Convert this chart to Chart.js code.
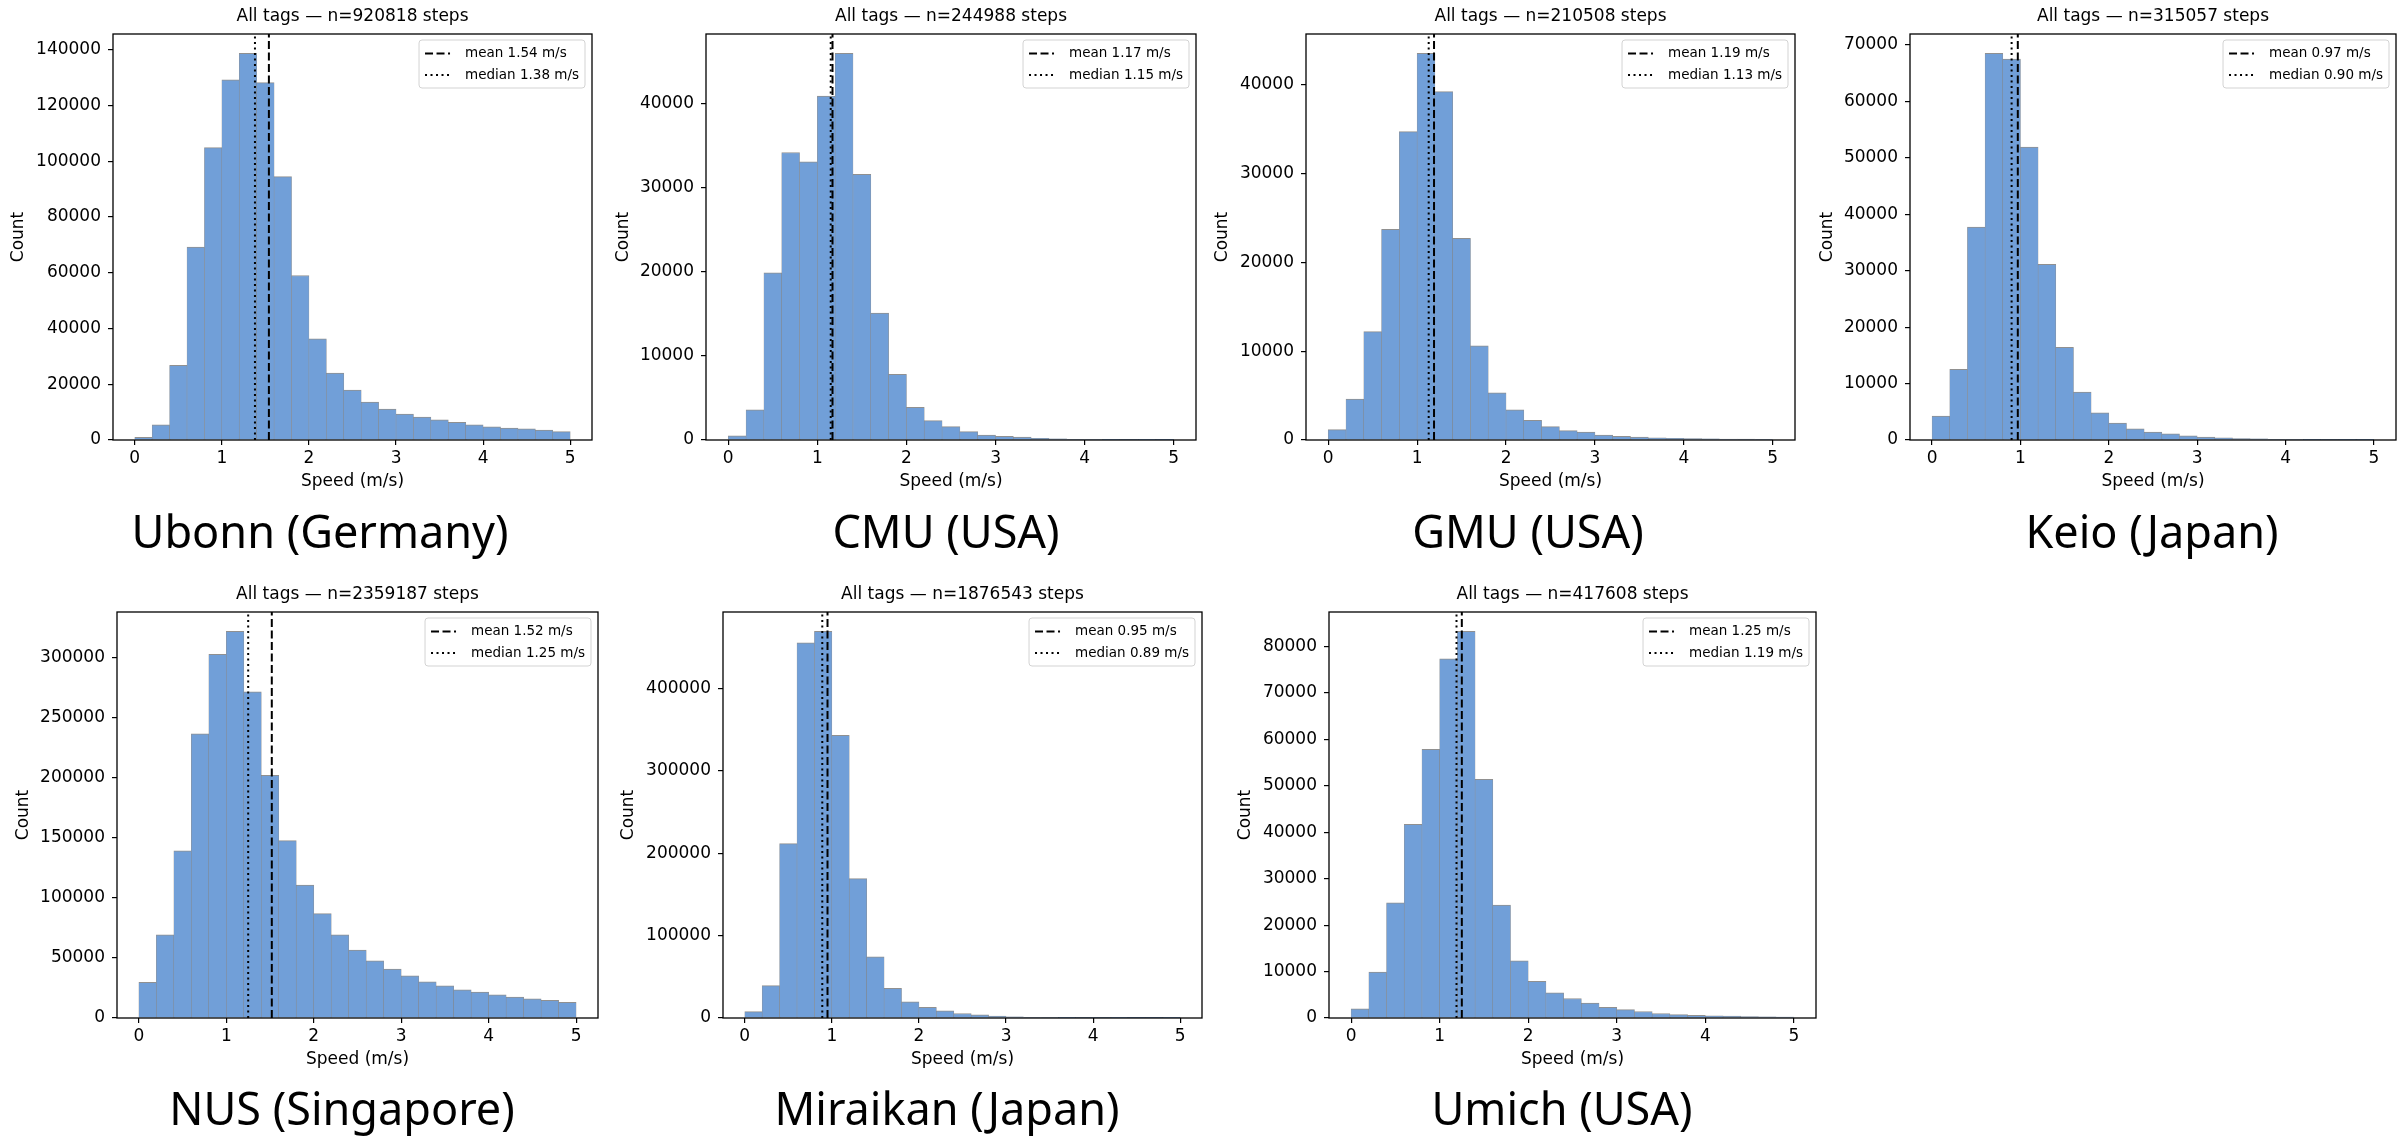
<!DOCTYPE html>
<html>
<head>
<meta charset="utf-8">
<script src="https://cdn.jsdelivr.net/npm/chart.js@4.4.1/dist/chart.umd.min.js"></script>
<style>
  body { margin: 0; background: #fff; }
  #page { position: relative; width: 2408px; height: 1148px; overflow: hidden; background: #fff; }
  #page canvas { position: absolute; }
  .site {
    position: absolute;
    font-family: 'Noto Sans', sans-serif;
    font-size: 45px;
    line-height: 1;
    color: #000;
    white-space: nowrap;
    transform: translate(-50%, -50%);
  }
</style>
</head>
<body>
<div id="page"></div>
<script>
// Границы бинов скорости (м/с), 25 бинов по 0.2
const binEdges = [0, 0.2, 0.4, 0.6, 0.8, 1.0, 1.2, 1.4, 1.6, 1.8, 2.0, 2.2, 2.4,
                  2.6, 2.8, 3.0, 3.2, 3.4, 3.6, 3.8, 4.0, 4.2, 4.4, 4.6, 4.8, 5.0];

// Подписи площадок и статистика
const siteNames = ['Ubonn (Germany)', 'CMU (USA)', 'GMU (USA)', 'Keio (Japan)',
                   'NUS (Singapore)', 'Miraikan (Japan)', 'Umich (USA)'];
const stepCounts = [920818, 244988, 210508, 315057, 2359187, 1876543, 417608];
const meanSpeeds = [1.54, 1.17, 1.19, 0.97, 1.52, 0.95, 1.25];
const medianSpeeds = [1.38, 1.15, 1.13, 0.90, 1.25, 0.89, 1.19];
const yTickSteps = [20000, 10000, 10000, 10000, 50000, 100000, 10000];
const xTicks = [0, 1, 2, 3, 4, 5];

// Количество шагов в каждом бине
const ubonnCounts = [1000, 5400, 26800, 69200, 104900, 129200, 138700, 128200, 94500, 59000, 36300, 24000, 17900,
                     13600, 11100, 9300, 8200, 7200, 6300, 5400, 4700, 4300, 4000, 3600, 3000];
const cmuCounts = [500, 3600, 19900, 34200, 33100, 40900, 46000, 31600, 15100, 7800, 3900, 2300, 1600,
                   1000, 600, 430, 340, 210, 130, 80, 50, 30, 20, 10, 5];
const gmuCounts = [1170, 4600, 12200, 23700, 34700, 43500, 39200, 22700, 10600, 5300, 3400, 2200, 1500,
                   1050, 880, 560, 400, 320, 240, 200, 160, 130, 110, 90, 60];
const keioCounts = [4250, 12500, 37700, 68500, 67500, 51900, 31100, 16400, 8500, 4800, 3000, 2000, 1400,
                    1100, 760, 510, 380, 250, 190, 130, 90, 60, 40, 30, 20];
const nusCounts = [29800, 69200, 139300, 236700, 303100, 322200, 271800, 202300, 147800, 110800, 87000, 69200, 56700,
                   47600, 40700, 35100, 30100, 26900, 23500, 21600, 19400, 17500, 16000, 14700, 13100];
const miraikanCounts = [7800, 39200, 211600, 455200, 469300, 343000, 169200, 74300, 36000, 19600, 12800, 8700, 5500,
                        3700, 2300, 1400, 900, 600, 400, 300, 200, 150, 100, 80, 60];
const umichCounts = [2000, 9900, 24800, 41700, 57900, 77400, 83300, 51400, 24300, 12300, 7900, 5400, 4200,
                     3200, 2300, 1800, 1400, 970, 730, 570, 490, 400, 320, 260, 220];

const allCounts = [ubonnCounts, cmuCounts, gmuCounts, keioCounts, nusCounts, miraikanCounts, umichCounts];

// Прямоугольники областей графиков на странице
const panels = [
    { l: 113, r: 592, t: 34, b: 440, countGap: 94, labelX: 320, labelY: 530 },
    { l: 706, r: 1196, t: 34, b: 440, countGap: 82, labelX: 946, labelY: 530 },
    { l: 1306, r: 1795, t: 34, b: 440, countGap: 83, labelX: 1528, labelY: 530 },
    { l: 1910, r: 2396, t: 34, b: 440, countGap: 82, labelX: 2152, labelY: 530 },
    { l: 117, r: 598, t: 612, b: 1018, countGap: 93, labelX: 342, labelY: 1107 },
    { l: 723, r: 1202, t: 612, b: 1018, countGap: 94, labelX: 947, labelY: 1107 },
    { l: 1329, r: 1816, t: 612, b: 1018, countGap: 83, labelX: 1562, labelY: 1107 }
];

const AXIS_W = 110, RIGHT_PAD = 14, TITLE_H = 34, XAXIS_H = 60;

Chart.defaults.font.family = '"DejaVu Sans", sans-serif';
Chart.defaults.color = '#000';

// Рамка вокруг области графика
const framePlugin = {
    id: 'frame',
    afterDatasetsDraw(chart) {
        const { ctx, chartArea: a } = chart;
        ctx.save();
        ctx.strokeStyle = '#000';
        ctx.lineWidth = 1.3;
        ctx.strokeRect(a.left, a.top, a.right - a.left, a.bottom - a.top);
        ctx.restore();
    }
};

// Легенда в правом верхнем углу, как в matplotlib
const statsLegend = {
    id: 'statsLegend',
    afterDatasetsDraw(chart, args, opts) {
        const { ctx, chartArea: a } = chart;
        ctx.save();
        ctx.font = '13.5px "DejaVu Sans"';
        const textW = Math.max(...opts.items.map(it => ctx.measureText(it.label).width));
        const w = 46 + textW + 6, h = 48;
        const x = a.right - 7 - w, y = a.top + 6;
        ctx.beginPath();
        ctx.roundRect(x, y, w, h, 3);
        ctx.fillStyle = 'rgba(255,255,255,0.8)';
        ctx.fill();
        ctx.strokeStyle = '#d3d3d3';
        ctx.lineWidth = 1;
        ctx.stroke();
        opts.items.forEach((it, k) => {
            const cy = y + 13.5 + k * 21.5;
            ctx.beginPath();
            ctx.setLineDash(it.dash);
            ctx.strokeStyle = '#000';
            ctx.lineWidth = 2;
            ctx.moveTo(x + 6, cy);
            ctx.lineTo(x + 31, cy);
            ctx.stroke();
            ctx.setLineDash([]);
            ctx.fillStyle = '#000';
            ctx.textBaseline = 'middle';
            ctx.fillText(it.label, x + 46, cy);
        });
        ctx.restore();
    }
};

const page = document.getElementById('page');
const MEAN_DASH = [8, 3.5];
const MEDIAN_DASH = [2, 3.5];

panels.forEach((p, i) => {
    const counts = allCounts[i];
    const ymax = Math.max(...counts) * 1.05;
    const bars = counts.map((c, k) => ({ x: (binEdges[k] + binEdges[k + 1]) / 2, y: c }));
    const yTicks = [];
    for (let v = 0; v <= ymax; v += yTickSteps[i]) yTicks.push(v);

    const canvas = document.createElement('canvas');
    const w = AXIS_W + (p.r - p.l) + RIGHT_PAD;
    const h = TITLE_H + (p.b - p.t) + XAXIS_H;
    canvas.width = w;
    canvas.height = h;
    canvas.style.left = (p.l - AXIS_W) + 'px';
    canvas.style.top = (p.t - TITLE_H) + 'px';
    canvas.style.width = w + 'px';
    canvas.style.height = h + 'px';
    page.appendChild(canvas);

    const label = document.createElement('div');
    label.className = 'site';
    label.textContent = siteNames[i];
    label.style.left = p.labelX + 'px';
    label.style.top = p.labelY + 'px';
    page.appendChild(label);

    const tickGrid = {
        display: true, drawOnChartArea: false, drawTicks: true,
        tickLength: 5, color: '#000', lineWidth: 1.2, offset: false
    };

    new Chart(canvas.getContext('2d'), {
        type: 'bar',
        data: {
            datasets: [
                {
                    type: 'bar',
                    data: bars,
                    backgroundColor: '#719fd8',
                    borderColor: 'rgba(125,125,125,0.85)',
                    borderWidth: { top: 1, left: 0.5, right: 0.5, bottom: 0 },
                    borderSkipped: false,
                    barPercentage: 1,
                    categoryPercentage: 1,
                    order: 2
                },
                {
                    type: 'line',
                    data: [{ x: meanSpeeds[i], y: 0 }, { x: meanSpeeds[i], y: ymax }],
                    borderColor: '#000',
                    borderWidth: 2,
                    borderDash: MEAN_DASH,
                    pointRadius: 0,
                    order: 1
                },
                {
                    type: 'line',
                    data: [{ x: medianSpeeds[i], y: 0 }, { x: medianSpeeds[i], y: ymax }],
                    borderColor: '#000',
                    borderWidth: 2,
                    borderDash: MEDIAN_DASH,
                    pointRadius: 0,
                    order: 1
                }
            ]
        },
        options: {
            responsive: false,
            animation: false,
            events: [],
            layout: { padding: { left: 0, right: RIGHT_PAD, top: 0, bottom: 0 } },
            plugins: {
                legend: { display: false },
                tooltip: { enabled: false },
                title: {
                    display: true,
                    fullSize: false,
                    text: 'All tags — n=' + stepCounts[i] + ' steps',
                    color: '#000',
                    font: { size: 17, weight: 'normal' },
                    padding: { top: 6, bottom: 7.6 }
                },
                statsLegend: {
                    items: [
                        { label: 'mean ' + meanSpeeds[i].toFixed(2) + ' m/s', dash: MEAN_DASH },
                        { label: 'median ' + medianSpeeds[i].toFixed(2) + ' m/s', dash: MEDIAN_DASH }
                    ]
                }
            },
            scales: {
                x: {
                    type: 'linear',
                    min: -0.25,
                    max: 5.25,
                    bounds: 'data',
                    offset: false,
                    afterBuildTicks: s => { s.ticks = xTicks.map(v => ({ value: v })); },
                    ticks: {
                        color: '#000', font: { size: 17 }, padding: 3,
                        maxRotation: 0, autoSkip: false, callback: v => String(v)
                    },
                    grid: tickGrid,
                    border: { display: false },
                    title: {
                        display: true, text: 'Speed (m/s)', color: '#000',
                        font: { size: 17 }, padding: { top: 0, bottom: 8 }
                    },
                    afterFit: s => { s.height = XAXIS_H; }
                },
                y: {
                    type: 'linear',
                    min: 0,
                    max: ymax,
                    bounds: 'data',
                    afterBuildTicks: s => { s.ticks = yTicks.map(v => ({ value: v })); },
                    ticks: {
                        color: '#000', font: { size: 17 }, padding: 7,
                        autoSkip: false, callback: v => String(v)
                    },
                    grid: tickGrid,
                    border: { display: false },
                    title: {
                        display: true, text: 'Count', color: '#000',
                        font: { size: 17 },
                        padding: { top: AXIS_W - p.countGap - 10.2, bottom: 0 }
                    },
                    afterFit: s => { s.width = AXIS_W; }
                }
            }
        },
        plugins: [framePlugin, statsLegend]
    });
});
</script>
</body>
</html>
